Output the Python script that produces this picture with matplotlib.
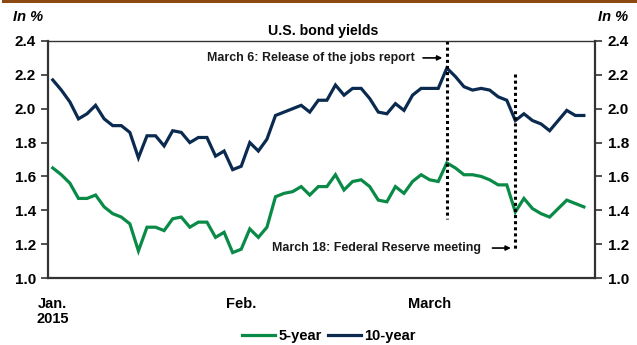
import numpy as np
import pandas as pd
import matplotlib
matplotlib.use("Agg")
import matplotlib.pyplot as plt
from matplotlib.lines import Line2D

plt.rcParams['font.family'] = ['Liberation Sans', 'DejaVu Sans']
plt.rcParams['font.weight'] = 'bold'

# weekdays from Jan 1 to Mar 30, 2015
dates = pd.bdate_range('2015-01-01', periods=63)

ten_year = [2.17, 2.11, 2.04, 1.94, 1.97, 2.02, 1.94, 1.90, 1.90, 1.86, 1.71,
            1.84, 1.84, 1.78, 1.87, 1.86, 1.80, 1.83, 1.83, 1.72, 1.75, 1.64,
            1.66, 1.80, 1.75, 1.82, 1.96, 1.98, 2.00, 2.02, 1.98, 2.05, 2.05,
            2.14, 2.08, 2.12, 2.12, 2.06, 1.98, 1.97, 2.03, 1.99, 2.08, 2.12,
            2.12, 2.12, 2.24, 2.19, 2.13, 2.11, 2.12, 2.11, 2.07, 2.05, 1.93,
            1.97, 1.93, 1.91, 1.87, 1.93, 1.99, 1.96, 1.96]
five_year = [1.65, 1.61, 1.56, 1.47, 1.47, 1.49, 1.42, 1.38, 1.36, 1.32, 1.16,
             1.30, 1.30, 1.28, 1.35, 1.36, 1.30, 1.33, 1.33, 1.24, 1.27, 1.15,
             1.17, 1.29, 1.24, 1.30, 1.48, 1.50, 1.51, 1.54, 1.49, 1.54, 1.54,
             1.61, 1.52, 1.57, 1.58, 1.54, 1.46, 1.45, 1.54, 1.50, 1.57, 1.61,
             1.58, 1.57, 1.68, 1.65, 1.61, 1.61, 1.60, 1.58, 1.55, 1.55, 1.39,
             1.47, 1.41, 1.38, 1.36, 1.41, 1.46, 1.44, 1.42]

month_labels = ['Jan.\n2015', 'Feb.', 'March']
month_pos = [0, 22, 44]
yticks = [1.0, 1.2, 1.4, 1.6, 1.8, 2.0, 2.2, 2.4]

green = '#0a8a47'
navy = '#0b2a50'

x = np.arange(len(dates))

fig = plt.figure(figsize=(6.37, 3.45), dpi=100)
ax = fig.add_axes([0.0761, 0.1942, 0.858, 0.687])

ax.plot(x, five_year, color=green, lw=2.3, label='5-year', solid_joinstyle='miter')
ax.plot(x, ten_year, color=navy, lw=2.3, label='10-year', solid_joinstyle='miter')

# event markers
i6 = dates.get_loc(pd.Timestamp('2015-03-06'))
i18 = dates.get_loc(pd.Timestamp('2015-03-18'))
ax.plot([i6, i6], [2.4, 1.35], color='black', lw=2.2, ls=(0, (1, 1)))
ax.plot([i18, i18], [2.205, 1.16], color='black', lw=2.2, ls=(0, (1, 1)))

ax.text(i6 - 3.8, 2.30, 'March 6: Release of the jobs report', ha='right', va='center',
        fontsize=8.9, fontweight='bold', color='#1a1a1a')
ax.annotate('', xy=(i6 - 0.2, 2.30), xytext=(i6 - 3.1, 2.30),
            arrowprops=dict(arrowstyle='-|>', color='black', lw=1.2, mutation_scale=7))
ax.text(i18 - 4.0, 1.177, 'March 18: Federal Reserve meeting', ha='right', va='center',
        fontsize=8.9, fontweight='bold', color='#1a1a1a')
ax.annotate('', xy=(i18 - 0.2, 1.177), xytext=(i18 - 3.0, 1.177),
            arrowprops=dict(arrowstyle='-|>', color='black', lw=1.2, mutation_scale=7))

ax.set_xlim(-0.5, 63.3)
ax.set_ylim(1.0, 2.4)
ax.set_yticks(yticks)
ax.set_yticklabels(['%.1f' % v for v in yticks])
ax.set_xticks(month_pos)
ax.set_xticklabels(month_labels, fontsize=10.5, fontweight='bold', linespacing=1.05)
ax.tick_params(axis='x', length=0, pad=14)
ax.tick_params(axis='y', direction='out', length=5, width=1.2, color='#333333',
               labelsize=11, pad=4, right=True, labelright=True)
for lbl in ax.get_yticklabels():
    lbl.set_fontweight('bold')

for side in ['left', 'right', 'bottom']:
    ax.spines[side].set_linewidth(1.6)
    ax.spines[side].set_color('#333333')
ax.spines['top'].set_linewidth(1.0)
ax.spines['top'].set_color('#333333')

fig.text(0.507, 0.910, 'U.S. bond yields', ha='center', va='center',
         fontsize=10.2, fontweight='bold')
fig.text(0.0204, 0.951, 'In %', ha='left', va='center', fontsize=10.5,
         fontweight='bold', style='italic')
fig.text(0.986, 0.951, 'In %', ha='right', va='center', fontsize=10.5,
         fontweight='bold', style='italic')

# brown rule at the top
fig.add_artist(Line2D([0.005, 1.0], [0.996, 0.996], color='#8b4a12', lw=2.2))

leg = fig.legend(loc='center', bbox_to_anchor=(0.516, 0.026), ncol=2, frameon=False,
                 fontsize=10.5, handlelength=2.3, columnspacing=0.4, handletextpad=0.2)
for t in leg.get_texts():
    t.set_fontweight('bold')

fig.savefig('out.png', dpi=100)
